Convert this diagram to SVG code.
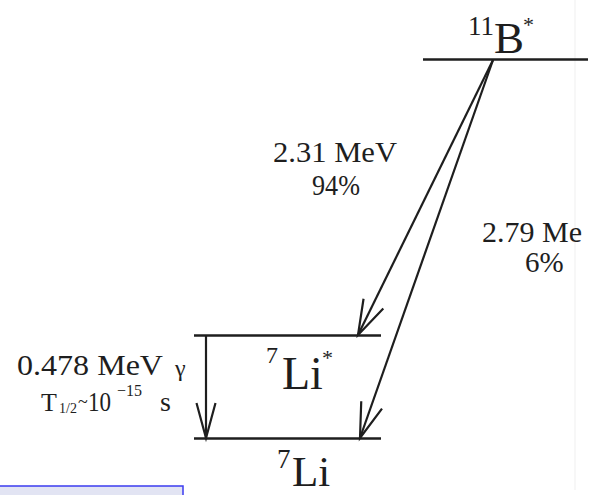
<svg xmlns="http://www.w3.org/2000/svg" width="591" height="495" viewBox="0 0 591 495">
<style>
text{font-family:"Liberation Serif","Times New Roman",serif;fill:#1e1e1e}
.lvl{stroke:#1e1e1e;stroke-width:2.6;fill:none}
.arr{stroke:#1e1e1e;stroke-width:2.2;fill:none}
</style>
<defs>
<marker id="vee" markerUnits="userSpaceOnUse" orient="auto" refX="0" refY="0" markerWidth="40" markerHeight="30" style="overflow:visible">
<path d="M-35,-11 L0,0 L-35,11" fill="none" stroke="#1e1e1e" stroke-width="2.2"/>
</marker>
<marker id="vee2" markerUnits="userSpaceOnUse" orient="auto" refX="0" refY="0" markerWidth="40" markerHeight="30" style="overflow:visible">
<path d="M-35,-9.5 L0,0 L-35,9.5" fill="none" stroke="#1e1e1e" stroke-width="2.2"/>
</marker>
</defs>
<rect width="591" height="495" fill="#ffffff"/>
<line x1="575" y1="0" x2="575" y2="490" stroke="#efefef" stroke-width="1"/>

<g id="level-B11">
<line class="lvl" x1="423" y1="59.5" x2="588" y2="59.5"/>
<text x="468" y="35" font-size="27">11</text>
<text x="494" y="53" font-size="45">B</text>
<text x="523" y="32" font-size="22">*</text>
</g>

<g id="level-Li7star">
<line class="lvl" x1="194" y1="335.5" x2="381" y2="335.5"/>
<text x="266" y="363" font-size="24">7</text>
<text x="282" y="389" font-size="46">Li</text>
<text x="322" y="365" font-size="22">*</text>
</g>

<g id="level-Li7">
<line class="lvl" x1="194" y1="438.5" x2="381" y2="438.5"/>
<text x="277" y="468" font-size="27">7</text>
<text x="292" y="486" font-size="43">Li</text>
</g>

<g id="connectors">
<line class="arr" x1="493" y1="60" x2="358" y2="335" marker-end="url(#vee)"/>
<line class="arr" x1="493" y1="60" x2="360" y2="438" marker-end="url(#vee)"/>
<line class="arr" x1="206" y1="336" x2="206" y2="438" marker-end="url(#vee2)"/>
</g>

<g id="label-231">
<text x="273" y="162" font-size="29" textLength="124" lengthAdjust="spacingAndGlyphs">2.31 MeV</text>
<text x="312" y="195" font-size="29" textLength="48" lengthAdjust="spacingAndGlyphs">94%</text>
</g>

<g id="label-279">
<text x="482" y="242" font-size="29" textLength="100" lengthAdjust="spacingAndGlyphs">2.79 Me</text>
<text x="525" y="272" font-size="29">6%</text>
</g>

<g id="label-gamma">
<text x="17" y="375" font-size="30" textLength="146" lengthAdjust="spacingAndGlyphs">0.478 MeV</text>
<text x="175" y="376" font-size="24">γ</text>
<text x="41" y="411" font-size="26">T</text>
<text x="59" y="413" font-size="14">1/2</text>
<text font-size="28"><tspan x="78" y="408" font-size="18">~</tspan><tspan x="88" y="411" textLength="23" lengthAdjust="spacingAndGlyphs">10</tspan><tspan x="117" y="396" font-size="16">−15</tspan><tspan x="160" y="411">s</tspan></text>
</g>

<rect x="-2" y="486" width="185" height="20" fill="#e2e4f3" stroke="#3b3bf0" stroke-width="1.5"/>
</svg>
